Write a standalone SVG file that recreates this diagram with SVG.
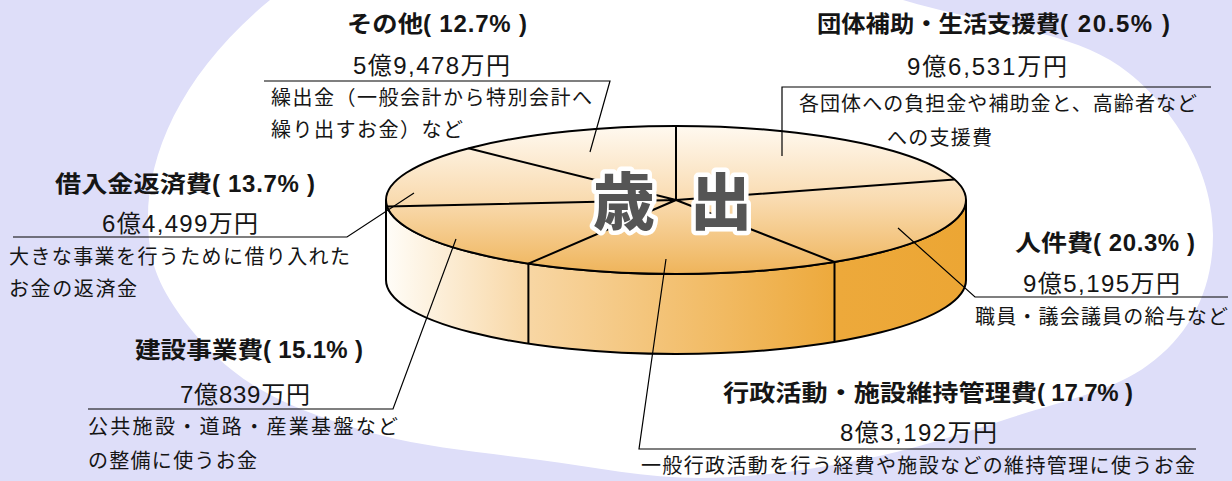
<svg xmlns="http://www.w3.org/2000/svg" width="1232" height="481" viewBox="0 0 1232 481">
<style>
.t{font-family:"Liberation Sans","Noto Sans CJK JP",sans-serif;fill:#151515}
.ti{font-weight:bold;font-size:23px}
.tn{font-weight:bold;font-size:24px}
.am{font-size:24px}
.de{font-size:20px}
.lead{fill:none;stroke:#000;stroke-width:1.2}
.edge{fill:none;stroke:#000;stroke-width:2}
.big{font-family:"Noto Sans CJK JP",sans-serif;font-weight:900;font-size:62px;fill:#555;stroke:#fff;stroke-width:9px;stroke-linejoin:round;paint-order:stroke;text-anchor:middle}
</style>
<defs>
<linearGradient id="side" x1="386" y1="0" x2="966" y2="0" gradientUnits="userSpaceOnUse">
<stop offset="0" stop-color="#fffdf8"/>
<stop offset="0.25" stop-color="#f8d6a3"/>
<stop offset="0.78" stop-color="#eda93b"/>
<stop offset="1" stop-color="#eca634"/>
</linearGradient>
<linearGradient id="top" x1="0" y1="126" x2="0" y2="274" gradientUnits="userSpaceOnUse">
<stop offset="0" stop-color="#fff9f0"/>
<stop offset="0.5" stop-color="#f9dbb0"/>
<stop offset="1" stop-color="#efb45a"/>
</linearGradient>
</defs>
<rect x="0" y="0" width="1232" height="481" fill="#dedef9"/>
<path fill="#fff" d="M148,218 C148,150 185,70 270,0 C355,-70 753,-45 903,0 C980,23 1060,30 1110,60 C1160,90 1213,160 1213,235 C1213,290 1190,335 1148,365 C1114.7,390.5 1058,402.2 1010,418 C962,433.8 911.7,450 860,460 C808.3,470 753.3,478 700,478 C646.7,478 593.3,467.2 540,460 C486.7,452.8 428.3,447.8 380,435 C331.7,422.2 285,405.5 250,383 C215,360.5 187,327.5 170,300 C153,272.5 148,249.7 148,218 Z"/>
<g id="pie">
<path d="M386,200 L386,280 A290,74 0 0 0 966,280 L966,200 A290,74 0 0 1 386,200 Z" fill="url(#side)" stroke="#000" stroke-width="2"/>
<ellipse cx="676" cy="200" rx="290" ry="74" fill="url(#top)" stroke="#000" stroke-width="2"/>
<path class="edge" d="M528.4,263.7 V343.7 M834.5,262 V342 M676,200 L676,126 M676,200 L954.5,179.4 M676,200 L834.5,262 M676,200 L528.4,263.7 M676,200 L387.1,206.5 M676,200 L468.4,148.3"/>
<text class="big" y="225"><tspan x="624">歳</tspan><tspan x="721">出</tspan></text>
</g>
<g id="connectors">
<path class="lead" d="M590,152 L610,81 L264,81"/>
<path class="lead" d="M782,156 L782,87 L1211,87"/>
<path class="lead" d="M898,228 L975,297 L1228,297"/>
<path class="lead" d="M666,259 L639,449 L1196,449"/>
<path class="lead" d="M456,239 L393,409 L88,409"/>
<path class="lead" d="M414,193 L347,237 L13,237"/>
</g>
<g id="node-sonota">
<text class="t"><tspan class="ti" x="347" y="32" textLength="76" lengthAdjust="spacingAndGlyphs">その他</tspan><tspan class="tn" x="423" y="32" textLength="104" lengthAdjust="spacing">( 12.7% )</tspan></text>
<text class="t am" x="353" y="74" textLength="157" lengthAdjust="spacing">5億9,478万円</text>
<text class="t de" x="271" y="105" textLength="321" lengthAdjust="spacing">繰出金（一般会計から特別会計へ</text>
<text class="t de" x="271" y="137" textLength="192" lengthAdjust="spacing">繰り出すお金）など</text>
</g>
<g id="node-dantai">
<text class="t"><tspan class="ti" x="817" y="32" textLength="243" lengthAdjust="spacingAndGlyphs">団体補助・生活支援費</tspan><tspan class="tn" x="1060" y="32" textLength="110" lengthAdjust="spacing">( 20.5% )</tspan></text>
<text class="t am" x="907" y="75" textLength="160" lengthAdjust="spacing">9億6,531万円</text>
<text class="t de" x="799" y="111" textLength="398" lengthAdjust="spacing">各団体への負担金や補助金と、高齢者など</text>
<text class="t de" x="887" y="145" textLength="105" lengthAdjust="spacing">への支援費</text>
</g>
<g id="node-jinken">
<text class="t"><tspan class="ti" x="1015" y="251" textLength="78" lengthAdjust="spacingAndGlyphs">人件費</tspan><tspan class="tn" x="1093" y="251" textLength="102" lengthAdjust="spacing">( 20.3% )</tspan></text>
<text class="t am" x="1023" y="292" textLength="157" lengthAdjust="spacing">9億5,195万円</text>
<text class="t de" x="975" y="324" textLength="253" lengthAdjust="spacing">職員・議会議員の給与など</text>
</g>
<g id="node-gyosei">
<text class="t"><tspan class="ti" x="723" y="401" textLength="314" lengthAdjust="spacingAndGlyphs">行政活動・施設維持管理費</tspan><tspan class="tn" x="1037" y="401" textLength="96" lengthAdjust="spacing">( 17.7% )</tspan></text>
<text class="t am" x="840" y="441" textLength="157" lengthAdjust="spacing">8億3,192万円</text>
<text class="t de" x="641" y="473" textLength="554" lengthAdjust="spacing">一般行政活動を行う経費や施設などの維持管理に使うお金</text>
</g>
<g id="node-kensetsu">
<text class="t"><tspan class="ti" x="135" y="358" textLength="128" lengthAdjust="spacingAndGlyphs">建設事業費</tspan><tspan class="tn" x="263" y="358" textLength="100" lengthAdjust="spacing">( 15.1% )</tspan></text>
<text class="t am" x="180" y="403" textLength="130" lengthAdjust="spacing">7億839万円</text>
<text class="t de" x="88" y="434" textLength="310" lengthAdjust="spacing">公共施設・道路・産業基盤など</text>
<text class="t de" x="88" y="468" textLength="169" lengthAdjust="spacing">の整備に使うお金</text>
</g>
<g id="node-kariire">
<text class="t"><tspan class="ti" x="55" y="192" textLength="157" lengthAdjust="spacingAndGlyphs">借入金返済費</tspan><tspan class="tn" x="212" y="192" textLength="103" lengthAdjust="spacing">( 13.7% )</tspan></text>
<text class="t am" x="102" y="232" textLength="156" lengthAdjust="spacing">6億4,499万円</text>
<text class="t de" x="9" y="264" textLength="341" lengthAdjust="spacing">大きな事業を行うために借り入れた</text>
<text class="t de" x="9" y="296" textLength="128" lengthAdjust="spacing">お金の返済金</text>
</g>
</svg>
